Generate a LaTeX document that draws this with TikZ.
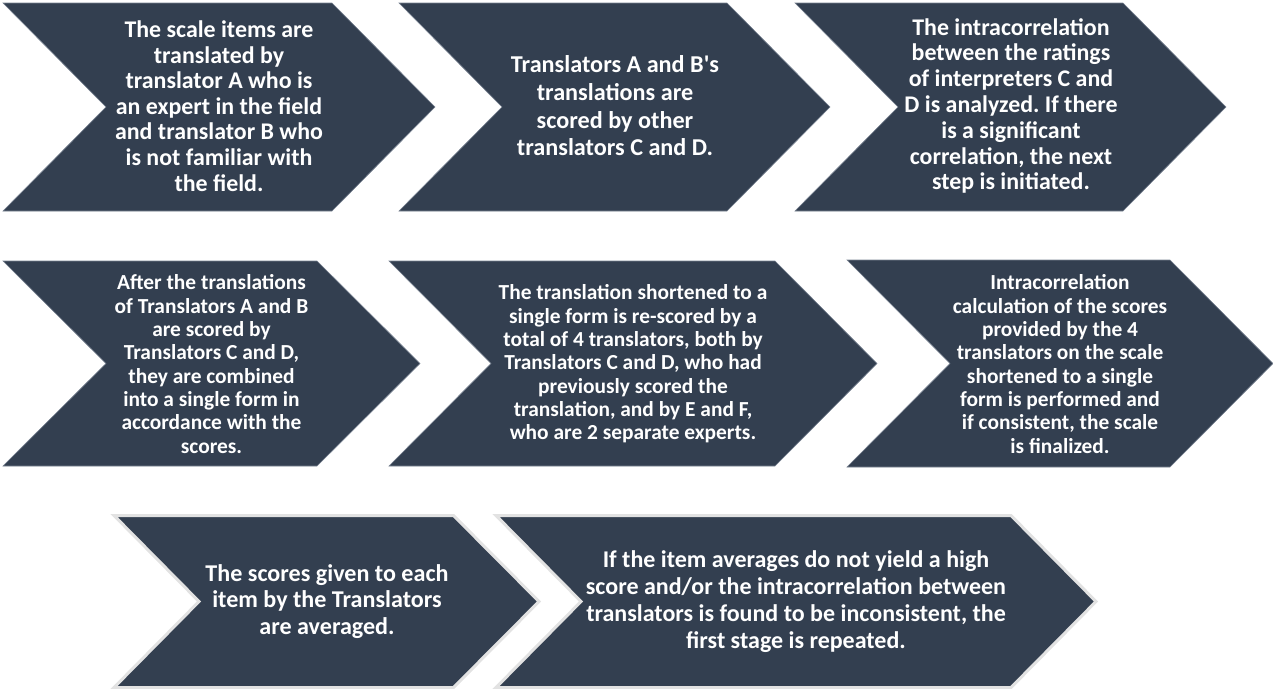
\documentclass[tikz,border=0pt]{standalone}
\usepackage{fontspec}
\setmainfont{Carlito}[Ligatures=TeXOff]
\definecolor{chevfill}{RGB}{51,63,80}
\definecolor{chevedge}{RGB}{120,130,145}
\definecolor{chevgray}{RGB}{226,226,226}
\tikzset{
  chev/.style={fill=chevfill, draw=chevedge, line width=0.6pt, line join=miter},
  chevout/.style={fill=chevfill, draw=chevgray, line width=3pt, line join=miter},
  lbl/.style={text=white, align=center, inner sep=0pt, font=\bfseries},
}
\begin{document}
\frenchspacing
\begin{tikzpicture}[x=1pt,y=-1pt]
\useasboundingbox (0,0) rectangle (1273,688);
% row 1
\path[chev] (3,3) -- (332,3) -- (435,107) -- (332,211) -- (3,211) -- (106,107) -- cycle;
\path[chev] (399,3) -- (727,3) -- (830,107) -- (727,211) -- (399,211) -- (502,107) -- cycle;
\path[chev] (795,3) -- (1123,3) -- (1226,107) -- (1123,211) -- (795,211) -- (898,107) -- cycle;
% row 2
\path[chev] (3,261) -- (317,261) -- (420,363.5) -- (317,466) -- (3,466) -- (106,363.5) -- cycle;
\path[chev] (389,261) -- (775,261) -- (877,363.5) -- (775,466) -- (389,466) -- (491,363.5) -- cycle;
\path[chev] (847,260) -- (1170,260) -- (1273,363.5) -- (1170,467) -- (847,467) -- (950,363.5) -- cycle;
% row 3
\path[chevout] (114,515.5) -- (453.5,515.5) -- (539,601.5) -- (453.5,687.5) -- (114,687.5) -- (199,601.5) -- cycle;
\path[chevout] (496,515.5) -- (1011,515.5) -- (1096,601.5) -- (1011,687.5) -- (496,687.5) -- (581,601.5) -- cycle;

\node[lbl, font=\bfseries\fontsize{23.9}{25.6}\selectfont] (t1) at (219,106) {The scale items are\\ translated by\\ translator A who is\\ an expert in the field\\ and translator B who\\ is not familiar with\\ the field.};
\node[lbl, font=\bfseries\fontsize{24.2}{27.7}\selectfont] (t2) at (615,106) {Translators A and B's\\ translations are\\ scored by other\\ translators C and D.};
\node[lbl, font=\bfseries\fontsize{23.9}{25.8}\selectfont] (t3) at (1011,106) {The intracorrelation\\ between the ratings\\ of interpreters C and\\ D is analyzed. If there\\ is a significant\\ correlation, the next\\ step is initiated.};
\node[lbl, font=\bfseries\fontsize{21.4}{23.3}\selectfont] (t4) at (211.5,364) {After the translations\\ of Translators A and B\\ are scored by\\ Translators C and D,\\ they are combined\\ into a single form in\\ accordance with the\\ scores.};
\node[lbl, font=\bfseries\fontsize{21.4}{23.3}\selectfont] (t5) at (633,364) {The translation shortened to a\\ single form is re-scored by a\\ total of 4 translators, both by\\ Translators C and D, who had\\ previously scored the\\ translation, and by E and F,\\ who are 2 separate experts.};
\node[lbl, font=\bfseries\fontsize{21.4}{23.3}\selectfont] (t6) at (1060,364) {Intracorrelation\\ calculation of the scores\\ provided by the 4\\ translators on the scale\\ shortened to a single\\ form is performed and\\ if consistent, the scale\\ is finalized.};
\node[lbl, font=\bfseries\fontsize{24.1}{26.7}\selectfont] (t7) at (327,601.5) {The scores given to each\\ item by the Translators\\ are averaged.};
\node[lbl, font=\bfseries\fontsize{24}{27}\selectfont] (t8) at (796,602) {If the item averages do not yield a high\\ score and/or the intracorrelation between\\ translators is found to be inconsistent, the\\ first stage is repeated.};
\end{tikzpicture}
\end{document}
